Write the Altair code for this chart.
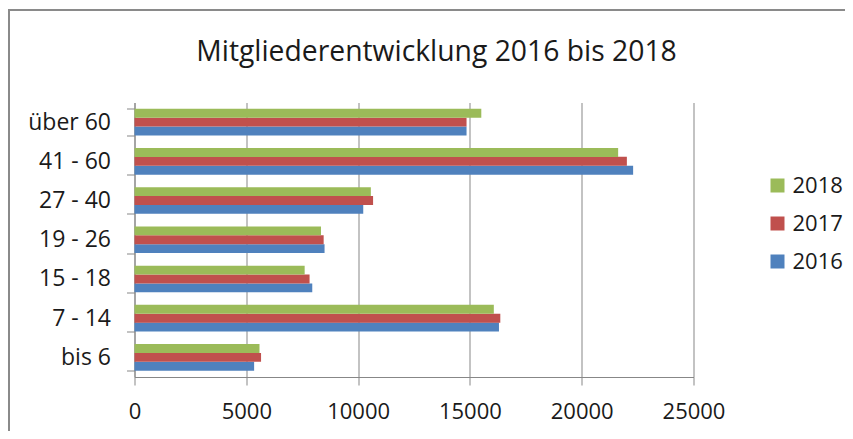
import altair as alt
import pandas as pd

categories = ["über 60", "41 - 60", "27 - 40", "19 - 26", "15 - 18", "7 - 14", "bis 6"]
years = ["2018", "2017", "2016"]
values_2016 = [14850, 22300, 10230, 8500, 7950, 16300, 5350]
values_2017 = [14850, 22020, 10670, 8460, 7830, 16360, 5660]
values_2018 = [15510, 21630, 10570, 8340, 7610, 16070, 5590]
colors = ["#9BBB59", "#C0504D", "#4F81BD"]
x_ticks = [0, 5000, 10000, 15000, 20000, 25000]

rows = []
for yr, vals in zip(["2016", "2017", "2018"], [values_2016, values_2017, values_2018]):
    for c, v in zip(categories, vals):
        rows.append({"Altersgruppe": c, "Jahr": yr, "Mitglieder": v})
df = pd.DataFrame(rows)

FONT = "Open Sans"
GRAY = "#878787"

bars = alt.Chart(df).mark_bar(size=8.9).encode(
    x=alt.X("Mitglieder:Q",
            scale=alt.Scale(domain=[0, 25000], nice=False),
            axis=alt.Axis(values=x_ticks, title=None, grid=True, gridColor=GRAY,
                          domainColor=GRAY, tickColor=GRAY, tickSize=8,
                          labelPadding=16, labelFontSize=22, labelFont=FONT,
                          labelColor="#1a1a1a", format="d", labelFlush=False)),
    y=alt.Y("Altersgruppe:N", sort=categories,
            scale=alt.Scale(paddingInner=0.32, paddingOuter=0.16),
            axis=alt.Axis(title=None, tickBand="extent", grid=False, domainColor=GRAY,
                          tickColor=GRAY, tickSize=8, labelPadding=16,
                          labelFontSize=23, labelFont=FONT, labelColor="#1a1a1a")),
    yOffset=alt.YOffset("Jahr:N", sort=years),
    color=alt.Color("Jahr:N", sort=years,
                    scale=alt.Scale(domain=years, range=colors),
                    legend=alt.Legend(title=None, orient="none", legendX=632, legendY=72,
                                      symbolType="square", symbolSize=196,
                                      symbolStrokeWidth=0, labelFontSize=22,
                                      labelFont=FONT, labelColor="#1a1a1a",
                                      labelOffset=4, rowPadding=16, padding=0)),
)

deco_df = pd.DataFrame({"k": [0]})
frame = alt.Chart(deco_df).mark_rect(filled=False, stroke="#8a8a8a", strokeWidth=2, clip=False).encode(
    x=alt.value(-125.5), x2=alt.value(900), y=alt.value(-92.5), y2=alt.value(600)
)
top_cover = alt.Chart(deco_df).mark_rect(fill="white", strokeWidth=0).encode(
    x=alt.value(1), x2=alt.value(558), y=alt.value(-4), y2=alt.value(0.6)
)

chart = alt.layer(frame, bars, top_cover).properties(
    width=559, height=274.5,
    title=alt.TitleParams("Mitgliederentwicklung 2016 bis 2018", font=FONT, fontSize=28.3,
                          fontWeight="normal", color="#1a1a1a", anchor="middle",
                          frame="group", dx=22.5, offset=0, dy=58),
    autosize=alt.AutoSizeParams(type="none"),
    padding={"left": 126.5, "top": 94.5, "right": 151.5, "bottom": 54},
).configure(
    background="white",
    style={"cell": {"stroke": "transparent", "strokeWidth": 0, "strokeOpacity": 0}},
).configure_view(stroke="transparent", strokeWidth=0, strokeOpacity=0)

chart.save("out.html", embed_options={"renderer": "svg", "actions": False})
